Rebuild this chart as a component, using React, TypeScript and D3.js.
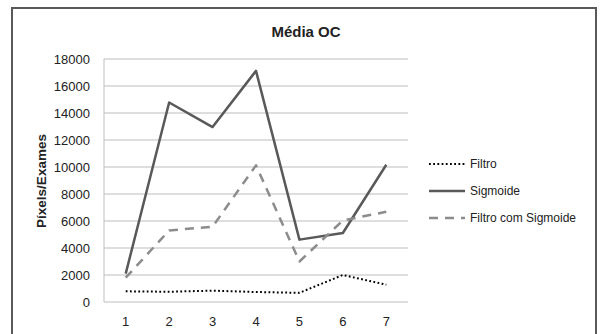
import React from "react";
import * as d3 from "d3";

const categories = ["1", "2", "3", "4", "5", "6", "7"];
const filtro = [790, 760, 840, 740, 680, 2000, 1280];
const sigmoide = [2100, 14780, 12960, 17120, 4620, 5110, 10170];
const filtroSigmoide = [1800, 5300, 5580, 10120, 3000, 6040, 6680];
const yTicks = [0, 2000, 4000, 6000, 8000, 10000, 12000, 14000, 16000, 18000];

const seriesList = [
  { name: "Filtro", values: filtro, color: "#000000", width: 2, dash: "1.8,2.4" },
  { name: "Sigmoide", values: sigmoide, color: "#595959", width: 2.5, dash: "" },
  { name: "Filtro com Sigmoide", values: filtroSigmoide, color: "#8c8c8c", width: 2.5, dash: "9,7" },
];

const W = 600;
const H = 334;
const plot = { left: 104, right: 408, top: 59, bottom: 302 };
const font = "'Liberation Sans', Arial, sans-serif";

export default function App() {
  const x = d3
    .scaleBand<string>()
    .domain(categories)
    .range([plot.left, plot.right]);
  const y = d3.scaleLinear().domain([0, 18000]).range([plot.bottom, plot.top]);
  const cx = (c: string) => (x(c) ?? 0) + x.bandwidth() / 2;

  const line = (vals: number[]) =>
    d3
      .line<number>()
      .x((_, i) => cx(categories[i]))
      .y((v) => y(v))(vals) ?? "";

  return (
    <svg
      width={W}
      height={H}
      style={{ position: "absolute", left: 0, top: 0, background: "#fff" }}
    >
      <rect x={0} y={0} width={W} height={H} fill="#fff" />
      {/* chart frame */}
      <rect x={12} y={8} width={584} height={340} fill="none" stroke="#595959" strokeWidth={2} />

      <text x={306} y={37} textAnchor="middle" fontFamily={font} fontWeight="bold" fontSize={15} fill="#222">
        Média OC
      </text>

      {/* gridlines */}
      {yTicks.map((t) => (
        <line key={t} x1={plot.left} x2={plot.right} y1={y(t)} y2={y(t)} stroke="#bdbdbd" strokeWidth={1} />
      ))}
      <line x1={plot.left} x2={plot.left} y1={plot.top} y2={plot.bottom} stroke="#bdbdbd" strokeWidth={1} />

      {/* y tick labels */}
      {yTicks.map((t) => (
        <text key={t} x={90} y={y(t)} dy="0.35em" textAnchor="end" fontFamily={font} fontSize={13} fill="#222">
          {t}
        </text>
      ))}

      {/* x tick labels */}
      {categories.map((c) => (
        <text key={c} x={cx(c)} y={326} textAnchor="middle" fontFamily={font} fontSize={13} fill="#222">
          {c}
        </text>
      ))}

      <text
        transform={`translate(46,181) rotate(-90)`}
        textAnchor="middle"
        fontFamily={font}
        fontWeight="bold"
        fontSize={13.5}
        fill="#222"
      >
        Píxels/Exames
      </text>

      {/* series */}
      {seriesList.map((s) => (
        <path
          key={s.name}
          d={line(s.values)}
          fill="none"
          stroke={s.color}
          strokeWidth={s.width}
          strokeDasharray={s.dash || undefined}
          strokeLinejoin="round"
        />
      ))}

      {/* legend */}
      {seriesList.map((s, i) => {
        const ly = 164 + i * 27;
        return (
          <g key={s.name}>
            <line
              x1={429}
              x2={465}
              y1={ly}
              y2={ly}
              stroke={s.color}
              strokeWidth={s.width}
              strokeDasharray={s.dash || undefined}
            />
            <text x={470} y={ly} dy="0.35em" fontFamily={font} fontSize={12} fill="#222">
              {s.name}
            </text>
          </g>
        );
      })}
    </svg>
  );
}
